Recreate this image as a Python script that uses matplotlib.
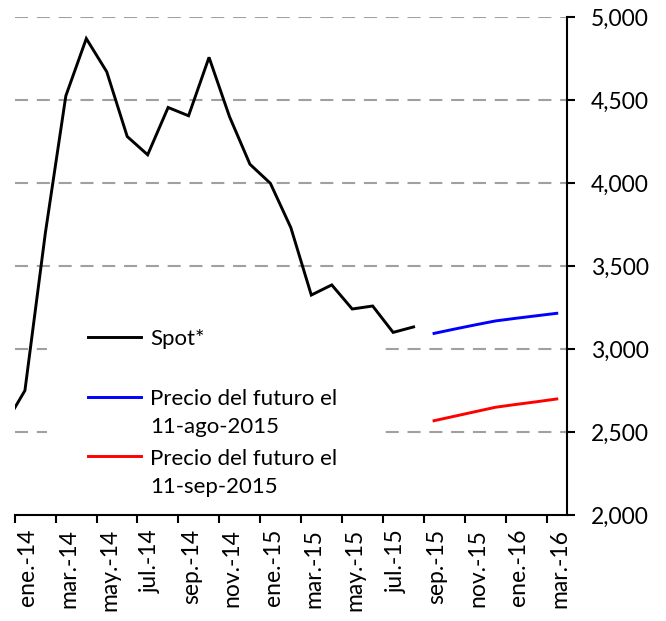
import matplotlib
matplotlib.use("Agg")
import matplotlib.pyplot as plt
from matplotlib.patches import Rectangle
from matplotlib.lines import Line2D
from matplotlib.transforms import ScaledTranslation
import numpy as np

plt.rcParams['font.family'] = ['Lato', 'DejaVu Sans']
plt.rcParams['lines.scale_dashes'] = False

# Monthly categories on the x axis
months = ["ene.-14", "feb.-14", "mar.-14", "abr.-14", "may.-14", "jun.-14",
          "jul.-14", "ago.-14", "sep.-14", "oct.-14", "nov.-14", "dic.-14",
          "ene.-15", "feb.-15", "mar.-15", "abr.-15", "may.-15", "jun.-15",
          "jul.-15", "ago.-15", "sep.-15", "oct.-15", "nov.-15", "dic.-15",
          "ene.-16", "feb.-16", "mar.-16"]

# Spot series (starts dic.-13, clipped at the axis start)
spot_months = ["dic.-13", "ene.-14", "feb.-14", "mar.-14", "abr.-14", "may.-14",
               "jun.-14", "jul.-14", "ago.-14", "sep.-14", "oct.-14", "nov.-14",
               "dic.-14", "ene.-15", "feb.-15", "mar.-15", "abr.-15", "may.-15",
               "jun.-15", "jul.-15", "ago.-15"]
spot_values = [2540, 2750, 3700, 4525, 4870, 4670, 4280, 4170, 4455, 4405,
               4757, 4400, 4113, 3998, 3731, 3325, 3386, 3241, 3259, 3100, 3133]

fut_months = ["sep.-15", "oct.-15", "nov.-15", "dic.-15", "ene.-16", "feb.-16", "mar.-16"]
fut_ago = [3094, 3120, 3145, 3169, 3185, 3200, 3215]
fut_sep = [2568, 2595, 2622, 2649, 2666, 2682, 2699]

labels = ["Spot*", "Precio del futuro el\n11-ago-2015", "Precio del futuro el\n11-sep-2015"]
colors = ["black", "#0000ff", "#ff0000"]

y_ticks = [2000, 2500, 3000, 3500, 4000, 4500, 5000]


def pos(m):
    if m in months:
        return months.index(m) + 0.5
    return -0.5  # dic.-13


fig = plt.figure(figsize=(6.66, 6.21), dpi=100)
ax = fig.add_axes([14.7 / 666, 1 - 515 / 621, (567 - 14.7) / 666, (515 - 17) / 621])

ax.set_xlim(0, 27)
ax.set_ylim(2000, 5000)

# gridlines
ax.set_axisbelow(True)
for yv in y_ticks[1:]:
    ax.axhline(yv, color="#a0a0a0", lw=1.5, linestyle=(0, (9.4, 6.3)), zorder=0.5)

# legend background box
ax.add_patch(Rectangle((0.058, 0.03), 0.6, 0.38, transform=ax.transAxes,
                       facecolor="white", edgecolor="none", zorder=1))

ax.plot([pos(m) for m in spot_months], spot_values, color=colors[0], lw=2.1,
        zorder=3, solid_joinstyle="miter")
ax.plot([pos(m) for m in fut_months], fut_ago, color=colors[1], lw=2.1, zorder=3)
ax.plot([pos(m) for m in fut_months], fut_sep, color=colors[2], lw=2.1, zorder=3)

# spines
for s in ["left", "top"]:
    ax.spines[s].set_visible(False)
for s in ["right", "bottom"]:
    ax.spines[s].set_linewidth(1.5)
    ax.spines[s].set_color("black")

# y axis on the right
ax.yaxis.tick_right()
ax.set_yticks(y_ticks)
ax.set_yticklabels([f"{v:,}" for v in y_ticks])
ax.tick_params(axis="y", which="major", direction="out", length=6, width=1.5,
               labelsize=16.5, pad=11, left=False)

# x axis: ticks on boundaries, labels at category centers
ax.set_xticks(np.arange(0, 27, 2))
ax.set_xticklabels([])
ax.set_xticks(np.arange(0, 27, 2) + 0.5, minor=True)
ax.set_xticklabels(months[::2], minor=True, rotation=90, fontsize=16.5)
ax.tick_params(axis="x", which="major", direction="out", length=6, width=1.5)
ax.tick_params(axis="x", which="minor", length=0, pad=10)
for lbl in ax.get_xticklabels(minor=True):
    lbl.set_transform(lbl.get_transform() + ScaledTranslation(2 / 72, 0, fig.dpi_scale_trans))

# legend (manual, handle aligned with first text line)
def ax_xy(px, py):
    return (px - 14.7) / (567 - 14.7), (515 - py) / (515 - 17)

handle_y = [337.3, 396.7, 456.0]
base_y = [345.0, 433.3, 493.3]   # baseline of the last text line
for lab, col, hy, by in zip(labels, colors, handle_y, base_y):
    x0, yy = ax_xy(87.7, hy)
    x1, _ = ax_xy(140.7, hy)
    ax.add_line(Line2D([x0, x1], [yy, yy], transform=ax.transAxes, color=col,
                       lw=2.1, zorder=4))
    tx, ty = ax_xy(150.5, by)
    ax.text(tx, ty, lab, transform=ax.transAxes, fontsize=16, va="baseline",
            ha="left", linespacing=1.5, zorder=4)

fig.savefig("out.png", dpi=100)
